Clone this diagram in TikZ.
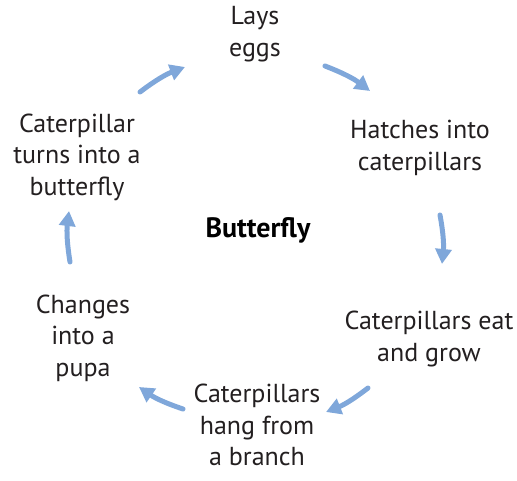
\documentclass[tikz,border=0pt]{standalone}
\usepackage{fontspec}
\setmainfont{PT Sans}
\usetikzlibrary{arrows.meta}
\definecolor{arrowblue}{HTML}{7FA7DA}
\definecolor{txt}{HTML}{231F20}
\begin{document}
\begin{tikzpicture}[x=1pt,y=-1pt,
  lbl/.style={align=center,font=\fontsize{26}{31.5}\selectfont,text=txt,inner sep=0pt},
  cyc/.style={draw=arrowblue,line width=5pt,line cap=round,-{Triangle[length=15pt,width=16pt]},bend left=8}]
\useasboundingbox (0,0) rectangle (517,481);
\node[lbl] (eggs) at (255,34) {Lays\\eggs};
\node[lbl] (hatch) at (420,148) {Hatches into\\caterpillars};
\node[lbl] (eat) at (429,339) {Caterpillars eat\\and grow};
\node[lbl] (hang) at (257,425) {Caterpillars\\hang from\\a branch};
\node[lbl] (pupa) at (83,338) {Changes\\into a\\pupa};
\node[lbl] (turn) at (77,157) {Caterpillar\\turns into a\\butterfly};
\node[lbl,font=\bfseries\fontsize{28}{30}\selectfont,text=black] (center) at (258,230) {Butterfly};
\coordinate (a1s) at (140,92); \coordinate (a1e) at (185,67);
\coordinate (a2s) at (325,66); \coordinate (a2e) at (370,91);
\coordinate (a3s) at (440,215); \coordinate (a3e) at (442,264);
\coordinate (a4s) at (368,388); \coordinate (a4e) at (326,412);
\coordinate (a5s) at (183,409); \coordinate (a5e) at (139,387);
\coordinate (a6s) at (70,262); \coordinate (a6e) at (69,211);
\draw[cyc] (a1s) to (a1e);
\draw[cyc] (a2s) to (a2e);
\draw[cyc] (a3s) to (a3e);
\draw[cyc] (a4s) to (a4e);
\draw[cyc] (a5s) to (a5e);
\draw[cyc] (a6s) to (a6e);
\end{tikzpicture}
\end{document}
